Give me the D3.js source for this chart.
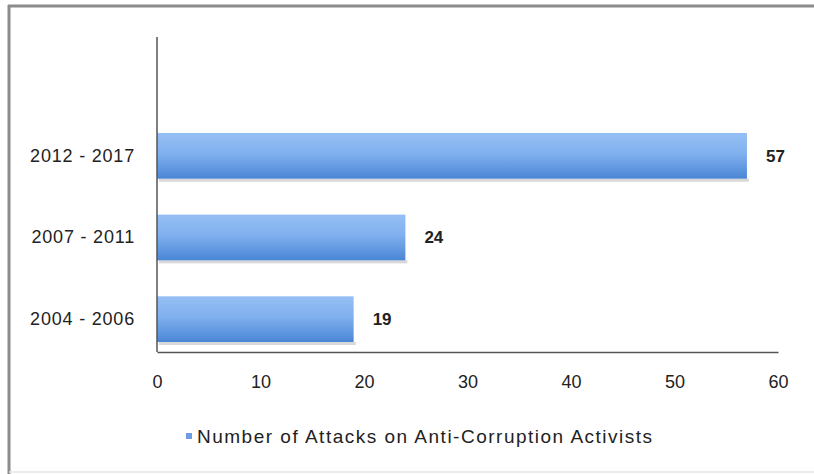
<!DOCTYPE html>
<html>
<head>
<meta charset="utf-8">
<script src="https://cdn.jsdelivr.net/npm/d3@7"></script>
<style>
  body { margin: 0; background: #fff; }
  text { font-family: "Liberation Sans", Arial, sans-serif; fill: #222; }
</style>
</head>
<body>
<svg id="chart"></svg>
<script>
var periods = ["2012 - 2017", "2007 - 2011", "2004 - 2006"];
var attacks = [57, 24, 19];
var xTicks = [0, 10, 20, 30, 40, 50, 60];
var seriesName = "Number of Attacks on Anti-Corruption Activists";

var W = 814, H = 474;
var svg = d3.select("#chart").attr("width", W).attr("height", H);

// frame
svg.append("rect").attr("x", 0).attr("y", 0).attr("width", W).attr("height", H).attr("fill", "#fff");
svg.append("line").attr("x1", 8).attr("x2", W).attr("y1", 6).attr("y2", 6)
  .attr("stroke", "#8c8c8c").attr("stroke-width", 3);
svg.append("line").attr("x1", 9).attr("x2", 9).attr("y1", 5).attr("y2", H)
  .attr("stroke", "#8c8c8c").attr("stroke-width", 3);
svg.append("line").attr("x1", 9).attr("x2", W).attr("y1", 472).attr("y2", 472)
  .attr("stroke", "#e4e4e4").attr("stroke-width", 1.5);

var x = d3.scaleLinear().domain([0, 60]).range([157, 778]);
var y = d3.scaleBand().domain(periods).range([115, 360])
  .paddingInner(0.44).paddingOuter(0.22);

var defs = svg.append("defs");
var grad = defs.append("linearGradient").attr("id", "barGrad")
  .attr("x1", 0).attr("y1", 0).attr("x2", 0).attr("y2", 1);
grad.append("stop").attr("offset", "0%").attr("stop-color", "#96bff4");
grad.append("stop").attr("offset", "45%").attr("stop-color", "#80b0ee");
grad.append("stop").attr("offset", "100%").attr("stop-color", "#4a86d6");

var data = periods.map(function(p, i) { return { period: p, value: attacks[i] }; });

// soft shadow under bars
svg.selectAll(".shadow")
  .data(data)
  .enter().append("rect")
  .attr("class", "shadow")
  .attr("x", x(0) + 2)
  .attr("y", function(d) { return y(d.period) + y.bandwidth(); })
  .attr("width", function(d) { return x(d.value) - x(0); })
  .attr("height", 3)
  .attr("fill", "#d8d8d8");

svg.selectAll(".bar")
  .data(data)
  .enter().append("rect")
  .attr("class", "bar")
  .attr("x", x(0))
  .attr("y", function(d) { return y(d.period); })
  .attr("width", function(d) { return x(d.value) - x(0); })
  .attr("height", y.bandwidth())
  .attr("fill", "url(#barGrad)");

svg.selectAll(".val")
  .data(data)
  .enter().append("text")
  .attr("class", "val")
  .attr("x", function(d) { return x(d.value) + 19; })
  .attr("y", function(d) { return y(d.period) + y.bandwidth() / 2; })
  .attr("dy", "0.35em")
  .style("font-size", "17px")
  .style("font-weight", "bold")
  .text(function(d) { return d.value; });

// axes
var xAxis = d3.axisBottom(x).tickValues(xTicks).tickSize(0).tickPadding(23);
var gx = svg.append("g").attr("transform", "translate(0,352)").call(xAxis);
gx.select(".domain").attr("stroke", "#555").attr("stroke-width", 1.5);
gx.selectAll("text").style("font-size", "18px").style("font-family", "Liberation Sans, Arial, sans-serif").attr("fill", "#222");

var yAxis = d3.axisLeft(y).tickSize(0).tickPadding(22);
var gy = svg.append("g").attr("transform", "translate(157,0)").call(yAxis);
gy.select(".domain").remove();
gy.selectAll("text").style("font-size", "18px").style("letter-spacing", "0.8px")
  .style("font-family", "Liberation Sans, Arial, sans-serif").attr("fill", "#222");

svg.append("line").attr("x1", x(0)).attr("x2", x(0)).attr("y1", 37).attr("y2", 352)
  .attr("stroke", "#555").attr("stroke-width", 1.5);

// legend
svg.append("rect").attr("x", 186).attr("y", 433).attr("width", 6).attr("height", 6)
  .attr("fill", "#6f9ee0");
svg.append("text").attr("x", 197).attr("y", 436).attr("dy", "0.35em")
  .style("font-size", "19px").style("letter-spacing", "1.5px")
  .text(seriesName);
</script>
</body>
</html>
